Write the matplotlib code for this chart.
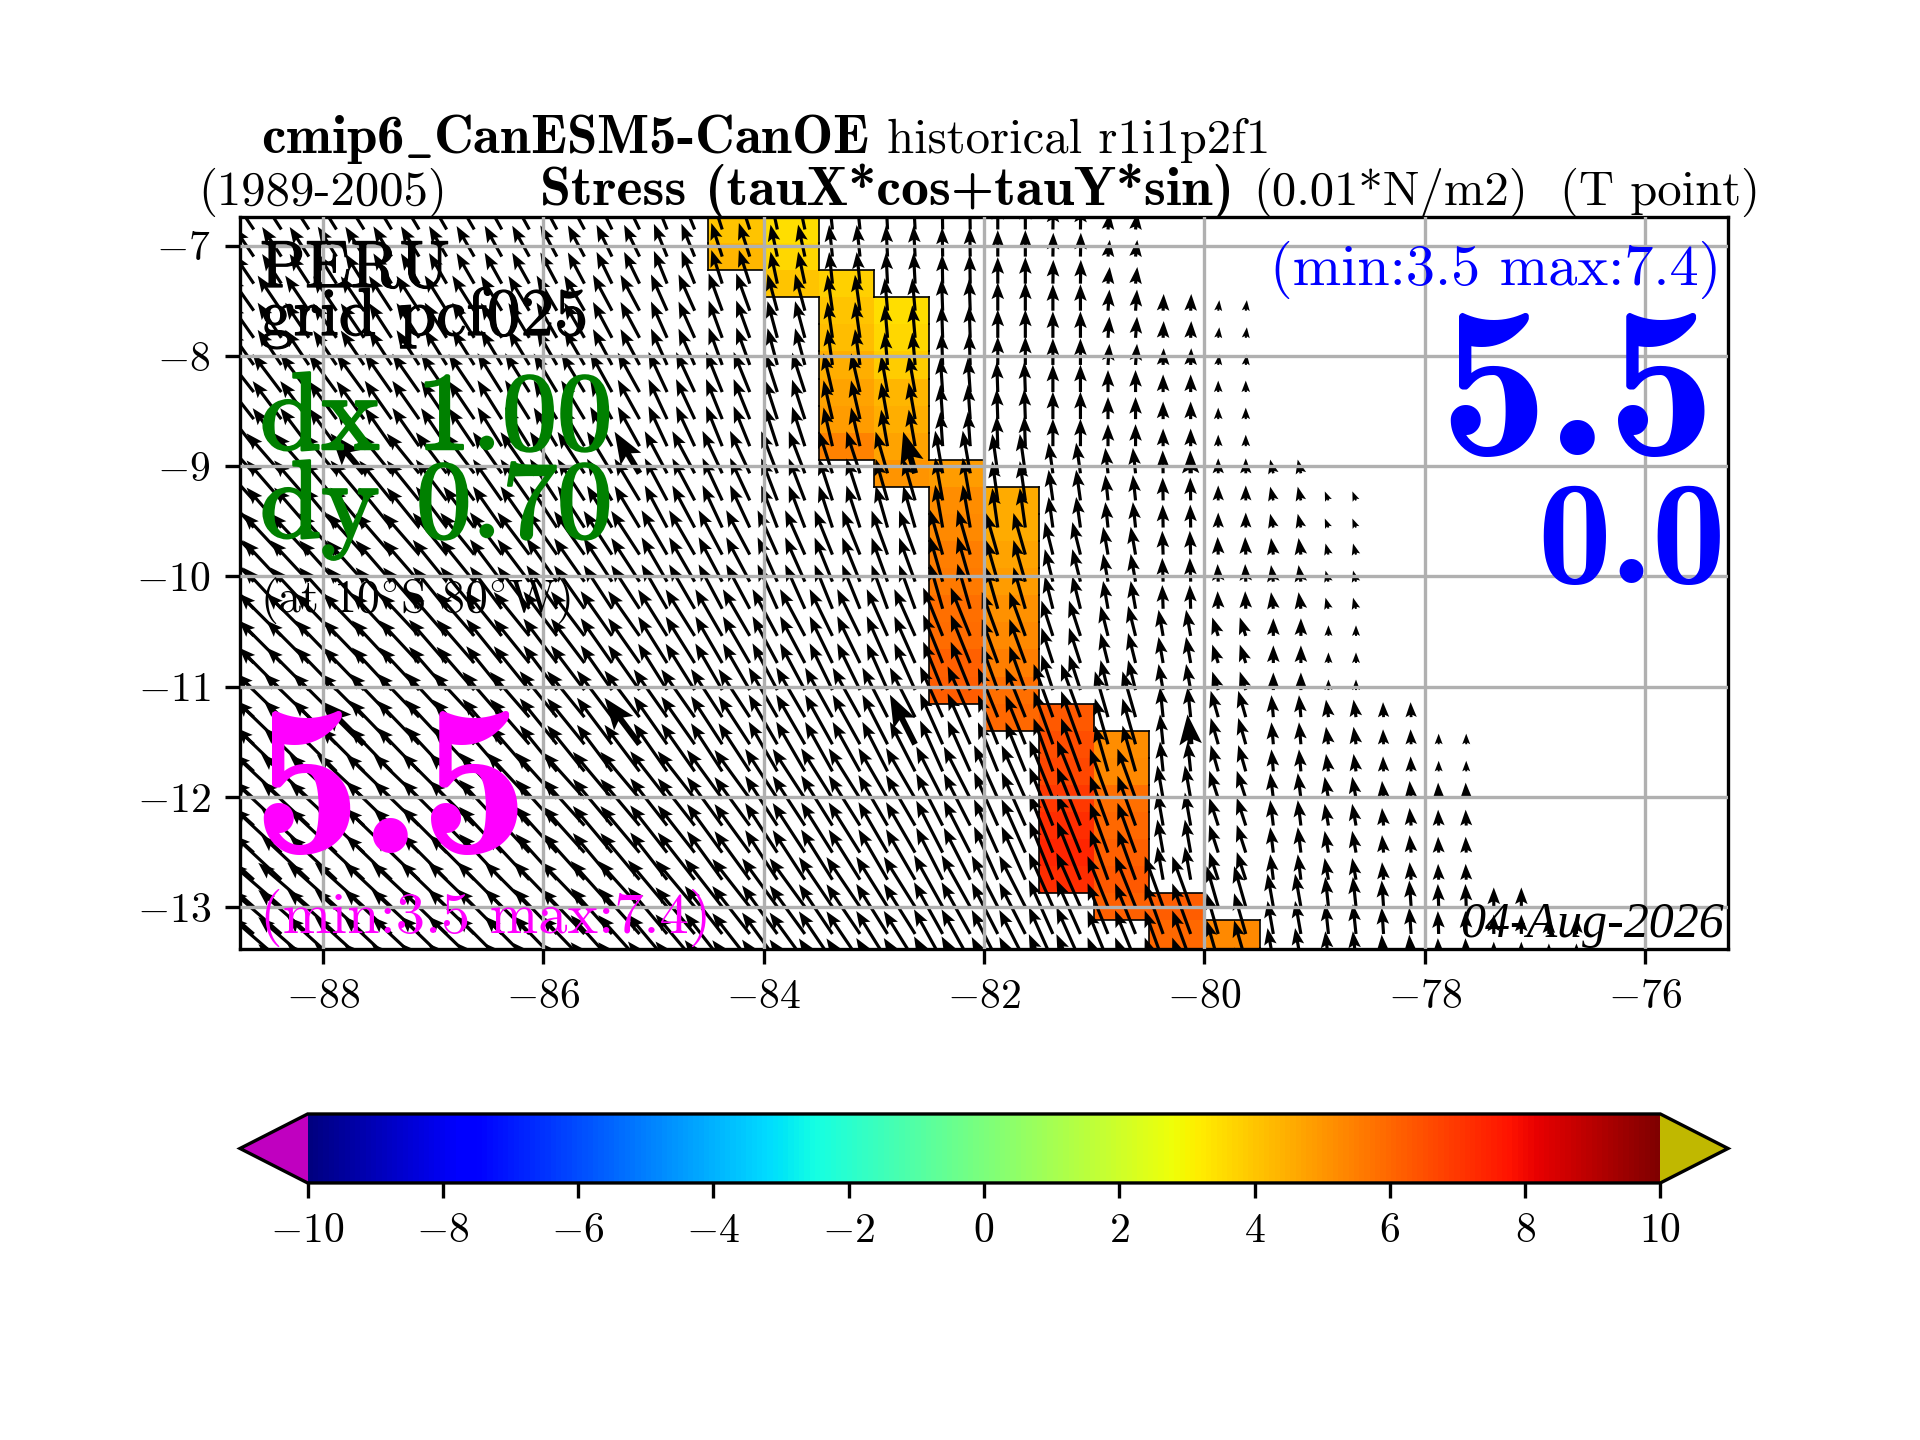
import numpy as np
import matplotlib
matplotlib.use('Agg')
import matplotlib.pyplot as plt
import matplotlib.patheffects as pe
from matplotlib.cm import ScalarMappable
from matplotlib.colors import Normalize

plt.rcParams['font.family'] = ['cmr10']
plt.rcParams['mathtext.fontset'] = 'cm'
plt.rcParams['axes.formatter.use_mathtext'] = True
plt.rcParams['axes.unicode_minus'] = True

# latitude of the cell edges, the last rows only show as arrows cut by the frame
lat_edges = [-6.73, -6.976, -7.222, -7.467, -7.713, -7.959, -8.205, -8.451, -8.696, -8.942,
             -9.188, -9.434, -9.68, -9.925, -10.171, -10.417, -10.663, -10.909, -11.154, -11.4,
             -11.646, -11.892, -12.138, -12.383, -12.629, -12.875, -13.121, -13.367, -13.613, -13.858]
# which data row each grid row uses
row_group = [0, 0, 0, 1, 1, 1, 2, 2, 2, 3, 3, 3, 4, 4, 4, 5, 5, 5, 6, 6, 6, 7, 7, 7, 7, 8, 8, 8, 8]
# last ocean column per grid row
last_col = [16, 16, 17, 18, 18, 18, 18, 18, 18, 19, 20, 20, 20, 20, 20, 20, 20, 20,
            21, 22, 22, 22, 22, 22, 22, 23, 24, 24, 24]

# stress magnitude per data row, columns go west to east
speed_0 = [4.0, 4.0, 4.0, 4.0, 4.0, 4.0, 4.0, 4.0, 4.0, 4.0, 3.7, 3.6, 3.5, 3.3, 3.0, 2.7, 1.9]
speed_1 = [4.8, 4.8, 4.7, 4.7, 4.7, 4.6, 4.6, 4.6, 4.5, 4.5, 4.3, 4.1, 3.7, 3.6, 3.2, 3.0, 2.4, 1.9, 1.2]
speed_2 = [5.4, 5.4, 5.3, 5.3, 5.2, 5.2, 5.1, 5.1, 5.0, 4.9, 4.7, 4.5, 4.2, 3.9, 3.4, 3.1, 2.5, 2.0, 1.3]
speed_3 = [6.0, 6.0, 5.9, 5.8, 5.8, 5.7, 5.6, 5.5, 5.4, 5.3, 5.1, 5.0, 4.9, 4.9, 4.5, 3.5, 2.9, 2.6, 1.7, 1.6, 1.1]
speed_4 = [6.4, 6.4, 6.3, 6.2, 6.1, 6.0, 6.0, 5.9, 5.8, 5.7, 5.5, 5.4, 5.3, 5.3, 4.9, 3.8, 3.2, 2.7, 2.0, 1.9, 1.3]
speed_5 = [6.8, 6.8, 6.7, 6.6, 6.5, 6.4, 6.3, 6.2, 6.2, 6.1, 6.0, 5.9, 5.8, 5.9, 5.3, 4.2, 3.5, 3.0, 2.2, 2.0, 1.2]
speed_6 = [7.1, 7.1, 7.0, 6.9, 6.9, 6.8, 6.7, 6.6, 6.6, 6.5, 6.5, 6.4, 6.3, 6.3, 6.0, 6.4, 5.4, 3.4, 3.1, 2.5, 2.0, 1.7, 1.2]
speed_7 = [7.4, 7.4, 7.3, 7.2, 7.2, 7.1, 7.0, 6.9, 6.8, 6.8, 6.7, 6.7, 6.6, 6.6, 6.6, 7.1, 6.0, 3.8, 3.3, 2.9, 2.5, 2.0, 1.8]
speed_8 = [7.6, 7.6, 7.5, 7.4, 7.3, 7.2, 7.1, 7.0, 6.9, 6.9, 6.8, 6.8, 6.7, 6.7, 6.5, 6.7, 6.2, 6.1, 4.8, 3.8, 3.4, 3.0, 2.6, 2.2, 2.0]
speeds = [speed_0, speed_1, speed_2, speed_3, speed_4, speed_5, speed_6, speed_7, speed_8]

# stress direction in degrees from east
angle_0 = [124, 123, 122, 121, 120, 119, 118, 116, 112, 108, 102, 96, 93, 91, 90, 89, 84]
angle_1 = [125, 124, 124, 123, 122, 121, 120, 118, 114, 110, 105, 98, 95, 92, 90, 90, 86, 88, 84]
angle_2 = [128, 127, 126, 125, 124, 122, 121, 119, 115, 112, 108, 103, 100, 94, 92, 90, 90, 90, 90]
angle_3 = [132, 131, 130, 129, 127, 125, 123, 121, 118, 115, 111, 108, 106, 100, 98, 98, 96, 91, 90, 103, 112]
angle_4 = [134, 133, 132, 131, 129, 127, 125, 123, 120, 118, 114, 112, 110, 106, 106, 104, 100, 92, 92, 98, 105]
angle_5 = [136, 135, 134, 133, 131, 129, 127, 125, 122, 120, 118, 116, 114, 112, 110, 108, 104, 100, 108, 90, 90]
angle_6 = [137, 136, 135, 134, 133, 131, 129, 127, 125, 123, 120, 119, 117, 114, 112, 110, 106, 96, 106, 95, 98, 92, 90]
angle_7 = [138, 137, 137, 136, 135, 133, 132, 130, 128, 126, 123, 122, 120, 117, 114, 112, 110, 100, 108, 97, 100, 95, 92]
angle_8 = [139, 139, 138, 137, 136, 135, 134, 132, 130, 128, 126, 124, 122, 119, 117, 114, 112, 110, 106, 100, 96, 94, 92, 90, 90]
angles = [angle_0, angle_1, angle_2, angle_3, angle_4, angle_5, angle_6, angle_7, angle_8]

# coastal band: column, first grid row, values going south
band_cols = [9, 10, 11, 12, 13, 14, 15, 16, 17, 18]
band_start = [0, 0, 2, 3, 9, 10, 18, 19, 25, 26]
band_vals = [[4.0, 4.3],
             [3.5, 3.6, 4.0],
             [3.8, 4.0, 4.2, 4.5, 4.7, 4.9, 5.4],
             [3.5, 3.6, 3.9, 4.3, 4.5, 4.7, 5.0],
             [4.9, 5.2, 5.3, 5.5, 5.6, 5.8, 5.9, 6.1, 6.2],
             [4.6, 4.6, 4.7, 4.9, 5.1, 5.3, 5.5, 5.8, 6.0],
             [6.3, 6.5, 6.7, 7.0, 7.2, 7.4, 7.2],
             [5.2, 5.3, 5.8, 6.0, 6.1, 6.3, 6.1],
             [6.2, 6.0, 6.0],
             [5.3, 5.3]]

# column edges, half degree blocks except the first
lon_edges = [-88.75, -88.5, -88.0, -87.5, -87.0, -86.5, -86.0, -85.5, -85.0, -84.5, -84.0, -83.5,
             -83.0, -82.5, -82.0, -81.5, -81.0, -80.5, -80.0, -79.5, -79.0, -78.5, -78.0, -77.5,
             -77.0, -76.5, -76.0, -75.5, -75.25]
x_ticks = [-88, -86, -84, -82, -80, -78, -76]
y_ticks = [-7, -8, -9, -10, -11, -12, -13]
cbar_ticks = [-10, -8, -6, -4, -2, 0, 2, 4, 6, 8, 10]


def ftext(x, y, s, **kw):
    # x, y in pixels of the final picture
    return fig.text(x / 1920, 1 - y / 1440, s, va='baseline', **kw)


fig = plt.figure(figsize=(6.4, 4.8))
ax = fig.add_axes([0.125, 0.341, 0.775, 0.5083])

cmap = plt.get_cmap('jet').copy()
cmap.set_under('#c000c0')
cmap.set_over('#c0b800')
norm = Normalize(vmin=-10, vmax=10)

# coloured cells
nrow = len(lat_edges) - 1
ncol = len(lon_edges) - 1
field = np.full((nrow, ncol), np.nan)
for col, start, vals in zip(band_cols, band_start, band_vals):
    for i, v in enumerate(vals):
        field[start + i, col] = v
ax.pcolormesh(lon_edges, lat_edges, np.ma.masked_invalid(field), cmap=cmap, norm=norm, zorder=1)

# outline of the cells
filled = ~np.isnan(field)
for r in range(nrow):
    for c in range(ncol):
        if not filled[r, c]:
            continue
        if r == 0 or not filled[r - 1, c]:
            ax.plot([lon_edges[c], lon_edges[c + 1]], [lat_edges[r]] * 2, 'k', lw=0.4, zorder=1.5)
        if r == nrow - 1 or not filled[r + 1, c]:
            ax.plot([lon_edges[c], lon_edges[c + 1]], [lat_edges[r + 1]] * 2, 'k', lw=0.4, zorder=1.5)
        if c == 0 or not filled[r, c - 1]:
            ax.plot([lon_edges[c]] * 2, [lat_edges[r], lat_edges[r + 1]], 'k', lw=0.4, zorder=1.5)
        if c == ncol - 1 or not filled[r, c + 1]:
            ax.plot([lon_edges[c + 1]] * 2, [lat_edges[r], lat_edges[r + 1]], 'k', lw=0.4, zorder=1.5)

# arrows, two per block
xs, ys, us, vs = [], [], [], []
bx, by, bu, bv = [], [], [], []
for k in range(nrow):
    sp = speeds[row_group[k]]
    an = angles[row_group[k]]
    lat = 0.5 * (lat_edges[k] + lat_edges[k + 1])
    for m in range(54):
        j = (m + 1) // 2
        if j > last_col[k] or j >= len(sp):
            continue
        lon = -88.625 + 0.25 * m
        u = sp[j] * np.cos(np.radians(an[j]))
        v = sp[j] * np.sin(np.radians(an[j]))
        if k in (9, 19) and m % 10 == 4:
            bx.append(lon); by.append(lat); bu.append(u); bv.append(v)
        else:
            xs.append(lon); ys.append(lat); us.append(u); vs.append(v)
ax.quiver(xs, ys, us, vs, pivot='tail', units='inches', width=0.0105, headwidth=4,
          headlength=5.3, angles='uv', scale_units='inches', scale=34, zorder=2)
ax.quiver(bx, by, bu, bv, pivot='tail', units='inches', width=0.02, headwidth=4,
          headlength=5.3, angles='uv', scale_units='inches', scale=34, zorder=2)

ax.set_xlim(-88.75, -75.25)
ax.set_ylim(-13.38, -6.74)
ax.set_xticks(x_ticks)
ax.set_yticks(y_ticks)
ax.tick_params(labelsize=10)
ax.grid(True)
ax.set_axisbelow(False)

# titles
ftext(261, 153, 'cmip6$\\mathbf{\\_}$CanESM5-CanOE', family='cmb10', fontsize=13.2)
ftext(887, 153, 'historical r1i1p2f1', fontsize=11.7)
ftext(198, 205, '(1989-2005)', fontsize=11.7)
ftext(540, 205, 'Stress (tauX*cos+tauY*sin)', family='cmb10', fontsize=13.4)
ftext(1253, 205, '(0.01*N/m2)', fontsize=11.7)
ftext(1560, 205, '(T point)', fontsize=11.7)

# texts inside the map
thick = [pe.withStroke(linewidth=0.6, foreground='green')]
thin_k = [pe.withStroke(linewidth=0.3, foreground='black')]
ftext(260, 287, 'PERU', fontsize=16, path_effects=thin_k)
ftext(260, 335, 'grid pcf025', fontsize=16.2, path_effects=thin_k)
ftext(260, 449, 'dx 1.00', color='green', fontsize=26.5, path_effects=thick)
ftext(260, 537, 'dy 0.70', color='green', fontsize=26.5, path_effects=thick)
ftext(260, 612, '(at 10$^{\\circ}$S 80$^{\\circ}$W)', fontsize=11)
ftext(252, 853, '5.5', family='cmb10', color='magenta', fontsize=52)
ftext(260, 933, '(min:3.5 max:7.4)', color='magenta', fontsize=14)
ftext(1721, 285, '(min:3.5 max:7.4)', color='blue', fontsize=14, ha='right')
ftext(1716, 455, '5.5', family='cmb10', color='blue', fontsize=52, ha='right')
ftext(1726, 583, '0.0', family='cmb10', color='blue', fontsize=35.5, ha='right')
ftext(1724, 937, '04-Aug-2026', family='Liberation Serif', style='italic', fontsize=12, ha='right')

# colour bar
cax = fig.add_axes([0.125, 0.1785, 0.775, 0.0479])
cb = fig.colorbar(ScalarMappable(norm=norm, cmap=cmap), cax=cax, orientation='horizontal',
                  extend='both', ticks=cbar_ticks)
cb.ax.tick_params(labelsize=10)

fig.savefig('out.png', dpi=300)
